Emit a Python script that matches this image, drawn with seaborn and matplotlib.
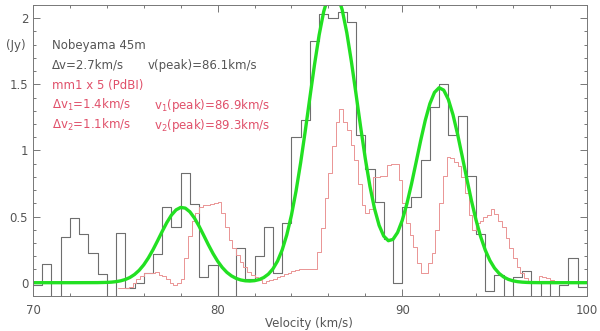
import numpy as np
import matplotlib
matplotlib.use("Agg")
import matplotlib.pyplot as plt
import seaborn as sns

# Nobeyama 45m spectrum, 0.5 km/s channels (left edge of each channel)
nro_start, nro_width = 70.0, 0.5
nro_flux = [-0.02, 0.14, -0.15, 0.345, 0.486, 0.365, 0.222, 0.066, -0.15, 0.375,
            -0.04, 0.0, 0.07, 0.22, 0.575, 0.42, 0.83, 0.595, 0.04, 0.13,
            -0.15, -0.15, 0.26, 0.03, 0.20, 0.42, 0.07, 0.45, 1.10, 1.23,
            1.83, 2.03, 2.00, 2.05, 1.97, 1.12, 0.86, 0.61, 0.33, 0.0,
            0.574, 0.65, 0.93, 1.33, 1.50, 1.12, 1.26, 0.81, 0.365, -0.065,
            0.06, -0.15, 0.045, 0.088, -0.15, 0.01, -0.15, -0.017, 0.19, -0.03]

# PdBI mm1 spectrum x 5, 0.2 km/s channels
pdbi_start, pdbi_width = 74.6, 0.2
pdbi_flux = [-0.04, -0.04, -0.04, -0.03, 0.0, 0.03, 0.05, 0.07, 0.075, 0.075,
             0.08, 0.06, 0.05, 0.025, 0.0, -0.02, -0.005, 0.025, 0.19, 0.35,
             0.47, 0.53, 0.575, 0.59, 0.59, 0.595, 0.605, 0.61, 0.53, 0.42,
             0.32, 0.26, 0.21, 0.16, 0.12, 0.083, 0.058, 0.045, 0.02, -0.005,
             0.01, 0.02, 0.03, 0.045, 0.05, 0.065, 0.07, 0.085, 0.095, 0.10,
             0.10, 0.10, 0.10, 0.10, 0.234, 0.41, 0.637, 0.83, 1.034, 1.215,
             1.31, 1.215, 1.152, 1.04, 0.926, 0.745, 0.59, 0.528, 0.56, 0.80,
             0.80, 0.81, 0.81, 0.888, 0.90, 0.90, 0.78, 0.60, 0.45, 0.36,
             0.27, 0.15, 0.07, 0.07, 0.15, 0.226, 0.40, 0.60, 0.81, 0.95,
             0.94, 0.913, 0.88, 0.80, 0.675, 0.51, 0.40, 0.45, 0.47, 0.494,
             0.51, 0.554, 0.52, 0.47, 0.42, 0.34, 0.26, 0.184, 0.12, 0.075,
             0.033, 0.008, 0.008, 0.008, 0.05, 0.04, 0.035, 0.02, 0.01, 0.0]

# gaussian fit curve
fit_v = [70.0, 72.0, 73.5, 74.0, 74.25, 74.5, 74.75, 75.0, 75.25, 75.5, 75.75,
         76.0, 76.25, 76.5, 76.75, 77.0, 77.25, 77.5, 77.75, 78.0, 78.25,
         78.5, 78.75, 79.0, 79.25, 79.5, 79.75, 80.0, 80.25, 80.5, 80.75,
         81.0, 81.25, 81.5, 81.75, 82.0, 82.25, 82.5, 82.75, 83.0, 83.25,
         83.5, 83.75, 84.0, 84.25, 84.5, 84.75, 85.0, 85.25, 85.5, 85.75,
         86.0, 86.25, 86.5, 86.75, 87.0, 87.25, 87.5, 87.75, 88.0, 88.25,
         88.5, 88.75, 89.0, 89.25, 89.5, 89.75, 90.0, 90.25, 90.5, 90.75,
         91.0, 91.25, 91.5, 91.75, 92.0, 92.25, 92.5, 92.75, 93.0, 93.25,
         93.5, 93.75, 94.0, 94.25, 94.5, 94.75, 95.0, 95.25, 95.5, 95.75,
         96.0, 96.25, 96.5, 96.75, 97.0, 97.5, 98.0, 100.0]
fit_flux = [0.0, 0.0, 0.0005, 0.0022, 0.0042, 0.0079, 0.0141, 0.0240, 0.0394, 0.0620, 0.0935,
            0.1351, 0.1874, 0.2490, 0.3175, 0.3880, 0.4548, 0.5111, 0.5507, 0.5691, 0.5638,
            0.5357, 0.4880, 0.4263, 0.3571, 0.2868, 0.2209, 0.1631, 0.1155, 0.0784, 0.0515,
            0.0327, 0.0207, 0.0143, 0.0125, 0.0153, 0.0235, 0.0390, 0.0648, 0.1049, 0.1641,
            0.2484, 0.3625, 0.5103, 0.6933, 0.9085, 1.1488, 1.4014, 1.6491, 1.8725, 2.0511,
            2.1676, 2.2100, 2.1738, 2.0632, 1.8895, 1.6700, 1.4250, 1.1753, 0.9389, 0.7304,
            0.5600, 0.4331, 0.3522, 0.3174, 0.3274, 0.3797, 0.4704, 0.5945, 0.7440, 0.9083,
            1.0745, 1.2280, 1.3538, 1.4390, 1.4743, 1.4558, 1.3855, 1.2707, 1.1231, 0.9565,
            0.7850, 0.6210, 0.4733, 0.3477, 0.2462, 0.1680, 0.1104, 0.0700, 0.0427, 0.0251,
            0.0142, 0.0078, 0.0041, 0.0021, 0.0010, 0.0002, 0.0, 0.0]

x_ticks = [70, 80, 90, 100]
y_ticks = [0, 0.5, 1, 1.5, 2]
y_tick_labels = ["0", "0.5", "1", "1.5", "2"]

GRAY = "#555555"
RED_TXT = "#e0506a"

sns.set_theme(style="ticks")
plt.rcParams["font.family"] = ["DejaVu Sans"]

fig = plt.figure(figsize=(6, 3.31), dpi=100)
ax = fig.add_axes([0.055, 0.106, 0.923, 0.879])

nro_mid = nro_start + nro_width * (np.arange(len(nro_flux)) + 0.5)
pdbi_mid = pdbi_start + pdbi_width * (np.arange(len(pdbi_flux)) + 0.5)
nro_range = (nro_start, nro_start + nro_width * len(nro_flux))
pdbi_range = (pdbi_start, pdbi_start + pdbi_width * len(pdbi_flux))

sns.histplot(x=nro_mid, weights=nro_flux, binwidth=nro_width, binrange=nro_range,
             element="step", fill=False, color="#6e6e6e", linewidth=0.8, ax=ax)
sns.histplot(x=pdbi_mid, weights=pdbi_flux, binwidth=pdbi_width, binrange=pdbi_range,
             element="step", fill=False, color="#ea9494", linewidth=0.7, ax=ax)
sns.lineplot(x=fit_v, y=fit_flux, color="#22e022", linewidth=2.4, ax=ax)

ax.set_xlim(70, 100)
ax.set_ylim(-0.1, 2.1)
ax.set_xticks(x_ticks)
ax.set_xticklabels([str(t) for t in x_ticks])
ax.set_yticks(y_ticks)
ax.set_yticklabels(y_tick_labels)
ax.set_xticks(np.arange(70, 101, 2), minor=True)
ax.set_yticks(np.arange(-0.1, 2.11, 0.1), minor=True)
ax.tick_params(which="both", direction="in", top=True, right=True,
               color="#777777", width=0.7, labelsize=8.5, labelcolor=GRAY)
ax.tick_params(which="major", length=5)
ax.tick_params(which="minor", length=2.5)
ax.tick_params(axis="x", pad=6)
for sp in ax.spines.values():
    sp.set_color("#777777")
    sp.set_linewidth(0.7)

ax.set_ylabel("")
ax.set_xlabel("")
fig.text(0.515, 1 - 323 / 331, "Velocity (km/s)", fontsize=8.5, color=GRAY,
         ha="center", va="center")
fig.text(0.027, 1 - 45 / 331, "(Jy)", fontsize=8.5, color=GRAY, ha="center", va="center")

# annotation block (pixel positions converted to figure fraction)
def label(xp, yp, s, c):
    fig.text(xp / 600, 1 - yp / 331, s, fontsize=8.5, color=c, ha="left", va="center")

label(52, 45, "Nobeyama 45m", GRAY)
label(52, 65, "\u0394v=2.7km/s", GRAY)
label(148, 65, "v(peak)=86.1km/s", GRAY)
label(52, 85, "mm1 x 5 (PdBI)", RED_TXT)
label(52, 105, "\u0394v$_1$=1.4km/s", RED_TXT)
label(154, 105, "v$_1$(peak)=86.9km/s", RED_TXT)
label(52, 125, "\u0394v$_2$=1.1km/s", RED_TXT)
label(154, 125, "v$_2$(peak)=89.3km/s", RED_TXT)

fig.savefig("out.png", dpi=100)
